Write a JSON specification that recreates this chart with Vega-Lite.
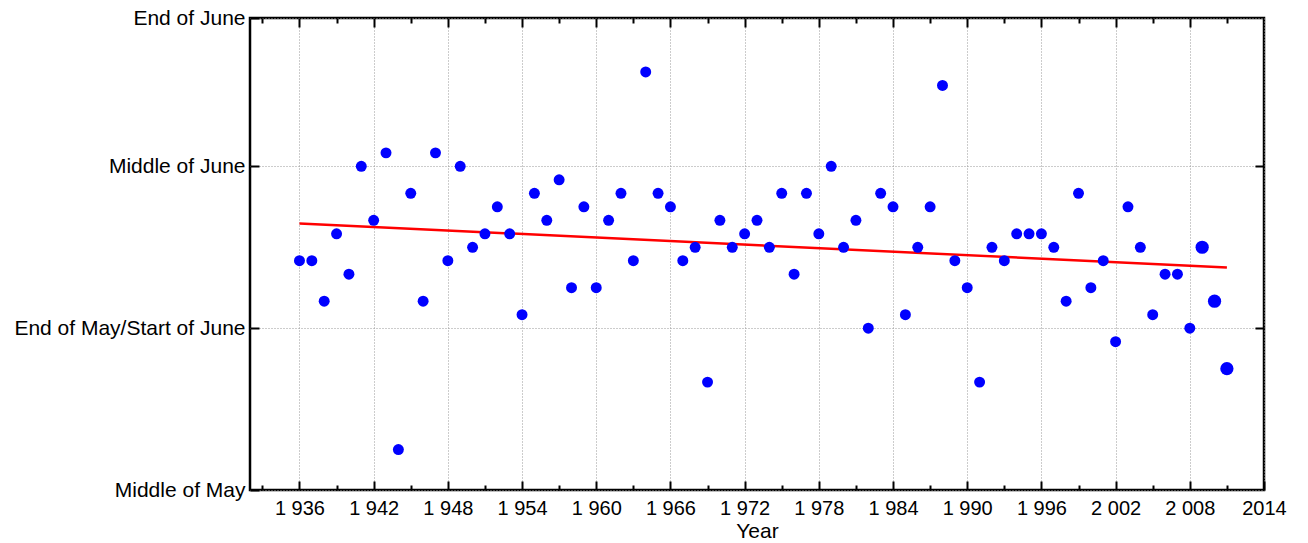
{
  "$schema": "https://vega.github.io/schema/vega-lite/v6.json",
  "width": 1014,
  "height": 472,
  "autosize": {"type": "none"},
  "padding": {"left": 250, "top": 18, "right": 44, "bottom": 53},
  "background": "white",
  "config": {
    "view": {"stroke": "black", "strokeWidth": 2.5},
    "axis": {
      "labelFont": "Liberation Sans",
      "titleFont": "Liberation Sans",
      "labelColor": "black",
      "titleColor": "black",
      "labelFontSize": 20,
      "titleFontSize": 21,
      "titleFontWeight": "normal",
      "labelLimit": 0,
      "labelFlush": false,
      "labelOverlap": false,
      "tickColor": "black",
      "tickWidth": 2,
      "domain": false,
      "gridColor": "#999999",
      "gridDash": [1, 2],
      "gridWidth": 1,
      "gridOpacity": 1
    }
  },
  "data": {
    "values": [
      {"Year": 1936, "Value": 17}, {"Year": 1937, "Value": 17}, {"Year": 1938, "Value": 14},
      {"Year": 1939, "Value": 19}, {"Year": 1940, "Value": 16}, {"Year": 1941, "Value": 24},
      {"Year": 1942, "Value": 20}, {"Year": 1943, "Value": 25}, {"Year": 1944, "Value": 3},
      {"Year": 1945, "Value": 22}, {"Year": 1946, "Value": 14}, {"Year": 1947, "Value": 25},
      {"Year": 1948, "Value": 17}, {"Year": 1949, "Value": 24}, {"Year": 1950, "Value": 18},
      {"Year": 1951, "Value": 19}, {"Year": 1952, "Value": 21}, {"Year": 1953, "Value": 19},
      {"Year": 1954, "Value": 13}, {"Year": 1955, "Value": 22}, {"Year": 1956, "Value": 20},
      {"Year": 1957, "Value": 23}, {"Year": 1958, "Value": 15}, {"Year": 1959, "Value": 21},
      {"Year": 1960, "Value": 15}, {"Year": 1961, "Value": 20}, {"Year": 1962, "Value": 22},
      {"Year": 1963, "Value": 17}, {"Year": 1964, "Value": 31}, {"Year": 1965, "Value": 22},
      {"Year": 1966, "Value": 21}, {"Year": 1967, "Value": 17}, {"Year": 1968, "Value": 18},
      {"Year": 1969, "Value": 8}, {"Year": 1970, "Value": 20}, {"Year": 1971, "Value": 18},
      {"Year": 1972, "Value": 19}, {"Year": 1973, "Value": 20}, {"Year": 1974, "Value": 18},
      {"Year": 1975, "Value": 22}, {"Year": 1976, "Value": 16}, {"Year": 1977, "Value": 22},
      {"Year": 1978, "Value": 19}, {"Year": 1979, "Value": 24}, {"Year": 1980, "Value": 18},
      {"Year": 1981, "Value": 20}, {"Year": 1982, "Value": 12}, {"Year": 1983, "Value": 22},
      {"Year": 1984, "Value": 21}, {"Year": 1985, "Value": 13}, {"Year": 1986, "Value": 18},
      {"Year": 1987, "Value": 21}, {"Year": 1988, "Value": 30}, {"Year": 1989, "Value": 17},
      {"Year": 1990, "Value": 15}, {"Year": 1991, "Value": 8}, {"Year": 1992, "Value": 18},
      {"Year": 1993, "Value": 17}, {"Year": 1994, "Value": 19}, {"Year": 1995, "Value": 19},
      {"Year": 1996, "Value": 19}, {"Year": 1997, "Value": 18}, {"Year": 1998, "Value": 14},
      {"Year": 1999, "Value": 22}, {"Year": 2000, "Value": 15}, {"Year": 2001, "Value": 17},
      {"Year": 2002, "Value": 11}, {"Year": 2003, "Value": 21}, {"Year": 2004, "Value": 18},
      {"Year": 2005, "Value": 13}, {"Year": 2006, "Value": 16}, {"Year": 2007, "Value": 16},
      {"Year": 2008, "Value": 12}, {"Year": 2009, "Value": 18}, {"Year": 2010, "Value": 14},
      {"Year": 2011, "Value": 9}
    ]
  },
  "layer": [
    {
      "transform": [{"regression": "Value", "on": "Year"}],
      "mark": {"type": "line", "color": "#ff0000", "strokeWidth": 2.5},
      "encoding": {
        "x": {
          "field": "Year", "type": "quantitative",
          "scale": {"domain": [1932, 2014], "nice": false, "zero": false},
          "axis": {"orient": "bottom", "values": [1933, 1939, 1945, 1951, 1957, 1963, 1969, 1975, 1981, 1987, 1993, 1999, 2005, 2011], "labels": false, "grid": false, "tickSize": -5, "title": null}
        },
        "y": {
          "field": "Value", "type": "quantitative",
          "scale": {"domain": [0, 35], "nice": false, "zero": false},
          "axis": {"orient": "right", "values": [12, 24], "labels": false, "grid": false, "tickSize": -9, "title": null}
        }
      }
    },
    {
      "mark": {"type": "point", "filled": true, "color": "#0000ff", "opacity": 1, "strokeWidth": 0},
      "encoding": {
        "x": {
          "field": "Year", "type": "quantitative",
          "axis": {
            "orient": "bottom",
            "values": [1936, 1942, 1948, 1954, 1960, 1966, 1972, 1978, 1984, 1990, 1996, 2002, 2008, 2014],
            "labelExpr": "datum.value == 2014 ? '2014' : substring(toString(datum.value), 0, 1) + ' ' + substring(toString(datum.value), 1)",
            "grid": true, "tickSize": -9, "labelPadding": 17, "title": "Year", "titlePadding": 2
          }
        },
        "y": {
          "field": "Value", "type": "quantitative",
          "axis": {
            "orient": "left",
            "values": [0, 12, 24, 35],
            "labelExpr": "datum.value == 0 ? 'Middle of May' : datum.value == 12 ? 'End of May/Start of June' : datum.value == 24 ? 'Middle of June' : 'End of June'",
            "labelFontSize": 21,
            "grid": true, "tickSize": -9, "labelPadding": 14, "title": null
          }
        },
        "size": {"condition": {"test": "datum.Year >= 2009", "value": 175}, "value": 120}
      }
    },
    {
      "mark": {"type": "point", "opacity": 0},
      "encoding": {
        "x": {
          "field": "Year", "type": "quantitative",
          "axis": {"orient": "top", "values": [1936, 1942, 1948, 1954, 1960, 1966, 1972, 1978, 1984, 1990, 1996, 2002, 2008], "labels": false, "grid": false, "tickSize": -9, "title": null}
        },
        "y": {"field": "Value", "type": "quantitative", "axis": null}
      }
    },
    {
      "mark": {"type": "point", "opacity": 0},
      "encoding": {
        "x": {
          "field": "Year", "type": "quantitative",
          "axis": {"orient": "top", "values": [1933, 1939, 1945, 1951, 1957, 1963, 1969, 1975, 1981, 1987, 1993, 1999, 2005, 2011], "labels": false, "grid": false, "tickSize": -5, "title": null}
        },
        "y": {"field": "Value", "type": "quantitative", "axis": null}
      }
    }
  ],
  "resolve": {"axis": {"x": "independent", "y": "independent"}}
}
